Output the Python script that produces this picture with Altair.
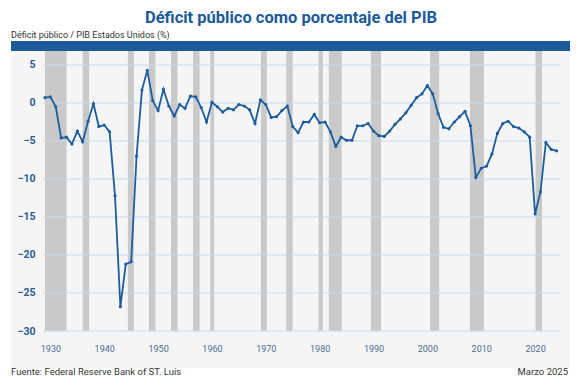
import altair as alt
import pandas as pd

# ---------------- data ----------------
years = list(range(1929, 2025))
deficit = [
    0.7, 0.8, -0.5, -4.6, -4.5, -5.4, -3.7, -5.1, -2.4, -0.1,      # 1929-1938
    -3.1, -2.9, -3.8, -12.2, -26.8, -21.2, -20.9, -7.0, 1.7, 4.3,  # 1939-1948
    0.3, -1.0, 1.8, -0.4, -1.7, -0.2, -0.7, 0.9, 0.8, -0.6,        # 1949-1958
    -2.5, 0.1, -0.5, -1.2, -0.7, -0.9, -0.2, -0.4, -0.9, -2.7,     # 1959-1968
    0.4, -0.2, -1.9, -1.8, -1.0, -0.4, -3.1, -3.9, -2.5, -2.5,     # 1969-1978
    -1.5, -2.6, -2.5, -3.8, -5.7, -4.5, -4.9, -4.9, -3.0, -3.0,    # 1979-1988
    -2.7, -3.7, -4.3, -4.4, -3.7, -2.8, -2.1, -1.3, -0.3, 0.7,     # 1989-1998
    1.2, 2.3, 1.2, -1.4, -3.2, -3.4, -2.5, -1.8, -1.1, -3.0,       # 1999-2008
    -9.8, -8.6, -8.3, -6.7, -4.0, -2.7, -2.4, -3.1, -3.3, -3.8,    # 2009-2018
    -4.5, -14.6, -11.7, -5.2, -6.1, -6.3,                          # 2019-2024
]

rec_start = [1929.0, 1936.0, 1944.4, 1948.3, 1952.4, 1956.5, 1959.7, 1969.1,
             1973.8, 1979.8, 1981.7, 1989.5, 2000.5, 2007.9, 2020.1]
rec_end = [1933.0, 1937.2, 1945.5, 1949.5, 1953.6, 1957.7, 1960.4, 1970.2,
           1975.0, 1980.6, 1984.1, 1991.4, 2002.2, 2010.5, 2021.3]

y_ticks = [5, 0, -5, -10, -15, -20, -25, -30]
x_ticks = [1930, 1940, 1950, 1960, 1970, 1980, 1990, 2000, 2010, 2020]

title_text = "Déficit público como porcentaje del PIB"
subtitle_text = "Déficit público / PIB Estados Unidos (%)"
source_text = "Fuente: Federal Reserve Bank of ST. Luis"
date_text = "Marzo 2025"

# ---------------- styling ----------------
W, H = 517, 280
BLUE = "#1b5a9b"
LINE = "#1c5d9f"
GRID = "#cbd9e8"
BAR = "#c9c9c9"
PANEL = "#f5f5f5"

df = pd.DataFrame({"year": years, "value": deficit})
rec = pd.DataFrame({"start": rec_start, "end": rec_end})
grid = pd.DataFrame({"v": y_ticks})

xscale = alt.Scale(domain=[1928.63, 2024.63], nice=False, zero=False)
yscale = alt.Scale(domain=[-30, 6.84], nice=False, zero=False)

one = pd.DataFrame({"a": [0]})

panel = alt.Chart(one).mark_rect(color=PANEL).encode(
    x=alt.value(-32), x2=alt.value(527), y=alt.value(-10), y2=alt.value(317)
)
topbar = alt.Chart(one).mark_rect(color=BLUE).encode(
    x=alt.value(-32), x2=alt.value(527), y=alt.value(-10), y2=alt.value(0)
)

xaxis = alt.Axis(values=x_ticks, format="d", title=None, grid=False,
                 ticks=False, domain=False, labelColor="#4d6d93",
                 labelFontSize=9, labelFont="Roboto", labelPadding=13, zindex=1)
yaxis = alt.Axis(values=y_ticks, title=None, grid=False, ticks=False,
                 domain=False, labelColor="#2b5b93", labelFontWeight="bold",
                 labelFontSize=10.5, labelFont="Roboto", labelPadding=8, zindex=1)

bars = alt.Chart(rec).mark_rect(color=BAR).encode(
    x=alt.X("start:Q", scale=xscale, axis=xaxis),
    x2="end:Q",
    y=alt.value(0),
    y2=alt.value(H),
)

gridlines = alt.Chart(grid).mark_rule(color=GRID, strokeWidth=1).encode(
    y=alt.Y("v:Q", scale=yscale, axis=yaxis)
)

line = alt.Chart(df).mark_line(color=LINE, strokeWidth=1.8).encode(
    x=alt.X("year:Q", scale=xscale, axis=xaxis),
    y=alt.Y("value:Q", scale=yscale, axis=yaxis),
)
pts = alt.Chart(df).mark_circle(color=LINE, size=10, opacity=1).encode(
    x=alt.X("year:Q", scale=xscale, axis=xaxis),
    y=alt.Y("value:Q", scale=yscale, axis=yaxis),
)

def label(txt, x, y, **kw):
    return alt.Chart(pd.DataFrame({"t": [txt]})).mark_text(**kw).encode(
        text="t:N", x=alt.value(x), y=alt.value(y)
    )

title = label(title_text, 248, -33, fontSize=16.5, fontWeight="bold",
              font="Roboto", color=BLUE, align="center", baseline="middle")
subtitle = label(subtitle_text, -32, -16, fontSize=9, font="Roboto",
                 color="#333333", align="left", baseline="middle")
source = label(source_text, -32, 321, fontSize=9.5, font="Roboto",
               color="#333333", align="left", baseline="middle")
date = label(date_text, 525, 321, fontSize=9.5, font="Roboto",
             color="#333333", align="right", baseline="middle")

chart = alt.layer(
    panel, topbar, bars, gridlines, line, pts, title, subtitle, source, date
).properties(
    width=W, height=H,
    autosize=alt.AutoSizeParams(type="none"),
    padding={"left": 35, "top": 43, "right": 14, "bottom": 46},
).configure_view(stroke=None).configure(background="white")

chart.save("out.html", embed_options={"renderer": "svg", "actions": False})
